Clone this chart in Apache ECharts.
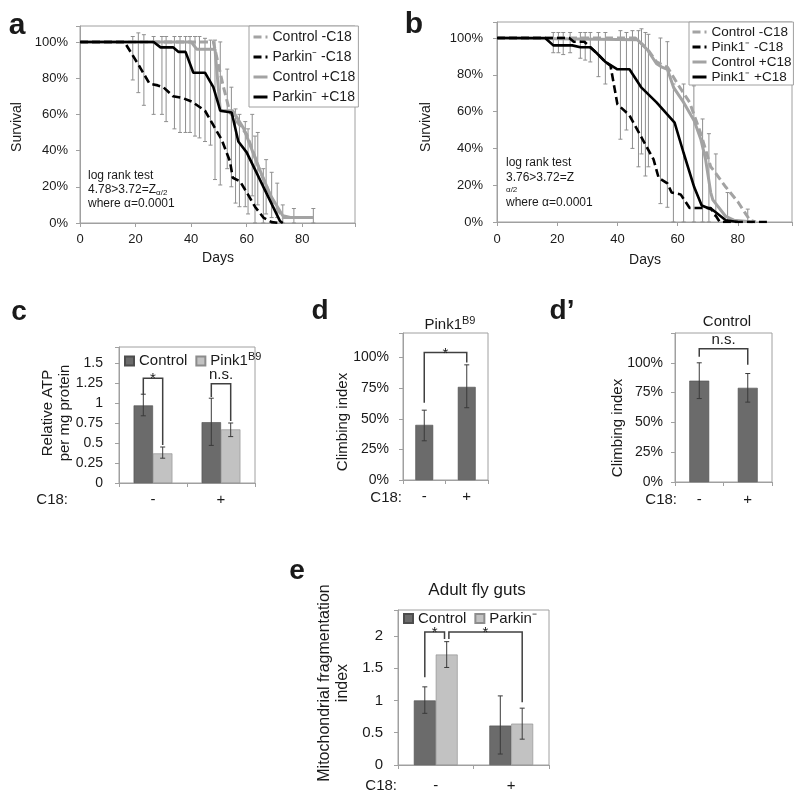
<!DOCTYPE html>
<html><head><meta charset="utf-8">
<script src="https://cdn.jsdelivr.net/npm/echarts@6/dist/echarts.min.js"></script>
<style>html,body{margin:0;padding:0;background:#fff}#main{width:800px;height:799px}</style>
</head><body><div id="main"></div>
<script>
// ---------------- Panel a : Parkin survival (days / % survival) ----------------
const aCtrlMinusDays = [0,48,51.5,54,57,60,65,69.5,73,76,84];
const aCtrlMinusVals = [100,100,76,61,55,49,28,12,3,3,3];
const aParkMinusDays = [0,16,21.6,25,28,30,33.5,37,40.3,45,48,51,54,55,57.6,60,63,66,69,72];
const aParkMinusVals = [100,100,86,77,76,75,70,69,67,62,54,46,34,25,23,17,9,3,0.5,0];
const aCtrlPlusDays  = [0,40,42,48.6,50.5,55,59,64,68.5,73,75.7,84];
const aCtrlPlusVals  = [100,100,96,96,62,62,52,32,15.5,4,3,3];
const aParkPlusDays  = [0,26.5,29,33.5,35.5,38,40.8,45,48,50.5,54.6,57,60,72,73];
const aParkPlusVals  = [100,100,97,97,94.5,94.5,83,83,75,62,61,45,39,1,0];
const aErrDays = [19,21,23,26.5,29.5,31,34,36,38,39.6,41.4,43,45,47,48.6,50.5,53,54.5,56,57.4,59.5,60.5,62,63,64,66,67,69,71,73,77,84];
const aErrLo   = [79,72,65,60,60,56,52,50,50,50,48,47,45,43,24,21,30,20,11,9,9,5,15,0,10,0,5,3,3,0,0,0];
const aErrHi   = [103,105,104,103,103,103,103,103,103,103,103,103,102,101,101,100,85,75,63,60,56,52,60,48,50,30,35,28,22,10,8,8];

// ---------------- Panel b : Pink1 survival ----------------
const bCtrlMinusDays = [0,46,50,53,56.7,60,64,67.7,71,72,76,80,84,86];
const bCtrlMinusVals = [100,100,94,87,84,75,65,48,30,28,19,11,1,0];
const bPinkMinusDays = [0,24,25.5,29,33,36,37.7,40,44,49,52,53.7,56.6,58,61,64,71,74,90];
const bPinkMinusVals = [100,100,98,98,92,87,85,64,58,43,34,24,21,16,15,7.6,7.6,0,0];
const bCtrlPlusDays  = [0,46.7,50,53,55,56.6,58.7,62,65.5,67.7,69.3,71,71.7,76,78.7,85];
const bCtrlPlusVals  = [100,99,93.5,86,84,83,73,65,55,45,34,16,12,3,1,0];
const bPinkPlusDays  = [0,16,18.7,25,27.7,31,33,36,40,44,48,53,59,62,65.5,68,71.7,76,80];
const bPinkPlusVals  = [100,100,96,96,95,95,92,87,83,83,73,65,54,37.5,19,9,6.5,1,0];
const bErrDays = [18.7,20.4,22,24.3,27.7,29.3,31,33.7,36,41,43,45,47,48,49.3,50.3,54.3,56.6,58.6,62,65.4,68.3,70.4,72.7,76.6,83.3];
const bErrLo   = [92,92,91,92,89,88,87,79,75,45,50,40,30,37,25,30,10,8,0,0,0,0,0,3,0,0];
const bErrHi   = [103,103,103,103,103,103,103,103,103,104,103,104,104,105,103,102,100,98,75,75,74,56,48,37,16,7];

// ---------------- Panel c : ATP ----------------
const c18Cats = ['-','+'];
const cControl = [0.97, 0.76];
const cControlLo = [0.84, 0.47];
const cControlHi = [1.11, 1.06];
const cPink1 = [0.37, 0.67];
const cPink1Lo = [0.31, 0.58];
const cPink1Hi = [0.45, 0.75];
const cSig = [[0,-0.5,1.10, 0,0.5,0.475, 1.31],[1,-0.5,1.075, 1,0.5,0.775, 1.24]];
const cSigLabels = ['*','n.s.'];

// ---------------- Panel d : climbing Pink1B9 ----------------
const dVals = [0.45, 0.76];
const dLo = [0.32, 0.59];
const dHi = [0.57, 0.94];
const dSig = [[0,0,0.63, 1,0,0.96, 1.04]];
const dSigLabels = ['*'];

// ---------------- Panel d' : climbing Control ----------------
const d2Vals = [0.85, 0.79];
const d2Lo = [0.70, 0.67];
const d2Hi = [1.00, 0.91];
const d2Sig = [[0,0,1.05, 1,0,0.983, 1.118]];
const d2SigLabels = ['n.s.'];

// ---------------- Panel e : mitochondrial fragmentation ----------------
const eControl = [1.0, 0.61];
const eControlLo = [0.80, 0.17];
const eControlHi = [1.21, 1.07];
const eParkin = [1.71, 0.64];
const eParkinLo = [1.51, 0.40];
const eParkinHi = [1.91, 0.88];
const eSig = [[0,-0.5,1.36, 0,0.4,1.95, 2.06],[0,0.6,1.95, 1,0.5,0.97, 2.06]];
const eSigLabels = ['*','*'];

const FONT = '"Liberation Sans", Arial, Helvetica, sans-serif';
const TXT = '#1a1a1a';
const FRAME = '#a0a0a0';
const GRAY = '#a3a3a3';
const DARK = '#6b6b6b';
const LIGHT = '#c2c2c2';

const chart = echarts.init(document.getElementById('main'), null, {renderer:'canvas'});

function grid(left, top, width, height) {
  return {left, top, width, height, show:true, borderColor:FRAME, borderWidth:1,
          backgroundColor:'transparent', containLabel:false, outerBoundsMode:'none'};
}
const grids = [grid(80,26,275,197), grid(497,22,295,200), grid(119,347,136,136),
               grid(403,333,85,147), grid(675,333,97,149), grid(398,610,151,155)];

function valX(gi, max, margin) {
  return {type:'value', gridIndex:gi, min:0, max, interval:20, splitLine:{show:false},
    axisLine:{show:true, onZero:false, lineStyle:{color:FRAME}},
    axisTick:{show:true, length:4, lineStyle:{color:FRAME}},
    axisLabel:{fontSize:13, fontFamily:FONT, color:TXT, margin, showMaxLabel:true,
      formatter:v => v > 80.5 ? '' : String(v)}};
}
function valY(gi, max, interval, fs, margin, fmt) {
  return {type:'value', gridIndex:gi, min:0, max, interval, splitLine:{show:false},
    axisLine:{show:true, lineStyle:{color:FRAME}},
    axisTick:{show:true, length:4, lineStyle:{color:FRAME}},
    axisLabel:{fontSize:fs, fontFamily:FONT, color:TXT, margin, formatter:fmt}};
}
function catX(gi, fs, margin) {
  return {type:'category', gridIndex:gi, data:c18Cats, boundaryGap:true,
    axisLine:{show:true, lineStyle:{color:FRAME}},
    axisTick:{show:true, alignWithLabel:false, length:4, lineStyle:{color:FRAME}},
    axisLabel:{fontSize:fs, fontFamily:FONT, color:TXT, margin}};
}

const xAxes = [valX(0,99,10), valX(1,98,11), catX(2,15,9), catX(3,15,9), catX(4,15,10), catX(5,15,13)];
const yAxes = [
  valY(0,108.8,20,13,12, v => v > 100.5 ? '' : v + '%'),
  valY(1,108.7,20,13,14, v => v > 100.5 ? '' : v + '%'),
  valY(2,1.7,0.25,14,16, v => v > 1.55 ? '' : String(v)),
  valY(3,1.2,0.25,14,14, v => v > 1.01 ? '' : Math.round(v*100) + '%'),
  valY(4,1.25,0.25,14,12, v => v > 1.01 ? '' : Math.round(v*100) + '%'),
  valY(5,2.4,0.5,15,15, v => v > 2.01 ? '' : String(v))
];

function survLine(gi, name, days, vals, color, width, dashed, z) {
  return {type:'line', name, xAxisIndex:gi, yAxisIndex:gi, symbol:'none', showSymbol:false,
    data: days.map((d,i)=>[d, vals[i]]), z, silent:true, animation:false,
    itemStyle:{color}, lineStyle:{color, width, type: dashed ? [8,4] : 'solid'}};
}
function survErr(gi, days, lo, hi) {
  return {type:'custom', xAxisIndex:gi, yAxisIndex:gi, silent:true, z:1, animation:false,
    encode:{x:0, y:[1,2]},
    data: days.map((d,i)=>[d, lo[i], hi[i]]),
    renderItem:(p, api) => {
      const a = api.coord([api.value(0), api.value(1)]);
      const b = api.coord([api.value(0), api.value(2)]);
      const st = {stroke:'#8f8f8f', lineWidth:1};
      return {type:'group', children:[
        {type:'line', shape:{x1:a[0],y1:a[1],x2:b[0],y2:b[1]}, style:st},
        {type:'line', shape:{x1:a[0]-2,y1:a[1],x2:a[0]+2,y2:a[1]}, style:st},
        {type:'line', shape:{x1:b[0]-2,y1:b[1],x2:b[0]+2,y2:b[1]}, style:st}]};
    }};
}
function bar(gi, name, data, color, border, gap) {
  return {type:'bar', name, xAxisIndex:gi, yAxisIndex:gi, data, barGap:'0%', barCategoryGap:gap,
    silent:true, animation:false, z:2,
    itemStyle:{color, borderColor:border, borderWidth:0.6}};
}
function barErr(gi, lo, hi, off, gapFrac, nBars) {
  return {type:'custom', xAxisIndex:gi, yAxisIndex:gi, silent:true, z:5, animation:false,
    encode:{x:0, y:[1,2]},
    data: lo.map((l,i)=>[i, l, hi[i], off]),
    renderItem:(p, api) => {
      const band = api.size([1,0])[0];
      const bw = band*(1-gapFrac)/nBars;
      const a = api.coord([api.value(0), api.value(1)]);
      const b = api.coord([api.value(0), api.value(2)]);
      const x = a[0] + api.value(3)*bw;
      const st = {stroke:'#3a3a3a', lineWidth:1};
      return {type:'group', children:[
        {type:'line', shape:{x1:x,y1:a[1],x2:x,y2:b[1]}, style:st},
        {type:'line', shape:{x1:x-2.5,y1:a[1],x2:x+2.5,y2:a[1]}, style:st},
        {type:'line', shape:{x1:x-2.5,y1:b[1],x2:x+2.5,y2:b[1]}, style:st}]};
    }};
}
function brackets(gi, rows, labels, gapFrac, nBars, fs) {
  return {type:'custom', xAxisIndex:gi, yAxisIndex:gi, silent:true, z:6, animation:false,
    encode:{x:0, y:6},
    data: rows.map((r,i)=>r.concat([i])),
    renderItem:(p, api) => {
      const band = api.size([1,0])[0];
      const bw = band*(1-gapFrac)/nBars;
      const P = (c,off,v) => { const q = api.coord([c, v]); return [q[0]+off*bw, q[1]]; };
      const p1 = P(api.value(0), api.value(1), api.value(2));
      const p2 = P(api.value(0), api.value(1), api.value(6));
      const p3 = P(api.value(3), api.value(4), api.value(6));
      const p4 = P(api.value(3), api.value(4), api.value(5));
      const lab = labels[api.value(7)];
      const star = lab === '*';
      return {type:'group', children:[
        {type:'polyline', shape:{points:[p1,p2,p3,p4]}, style:{stroke:'#404040', lineWidth:1.5, fill:null}},
        {type:'text', x:(p2[0]+p3[0])/2, y: star ? p2[1]+1 : p2[1]-1,
          style:{text:lab, fontSize:fs, fontFamily:FONT, fill:TXT, align:'center',
                 verticalAlign: star ? 'middle' : 'bottom'}}]};
    }};
}

const series = [
  survErr(0, aErrDays, aErrLo, aErrHi),
  survLine(0,'a:Control -C18', aCtrlMinusDays, aCtrlMinusVals, GRAY, 3, true, 3),
  survLine(0,'a:Parkin⁻ -C18', aParkMinusDays, aParkMinusVals, '#000', 2.6, true, 4),
  survLine(0,'a:Control +C18', aCtrlPlusDays, aCtrlPlusVals, GRAY, 3, false, 3),
  survLine(0,'a:Parkin⁻ +C18', aParkPlusDays, aParkPlusVals, '#000', 2.6, false, 4),
  survErr(1, bErrDays, bErrLo, bErrHi),
  survLine(1,'b:Control -C18', bCtrlMinusDays, bCtrlMinusVals, GRAY, 3, true, 3),
  survLine(1,'b:Pink1⁻ -C18', bPinkMinusDays, bPinkMinusVals, '#000', 2.6, true, 4),
  survLine(1,'b:Control +C18', bCtrlPlusDays, bCtrlPlusVals, GRAY, 3, false, 3),
  survLine(1,'b:Pink1⁻ +C18', bPinkPlusDays, bPinkPlusVals, '#000', 2.6, false, 4),
  bar(2,'c:Control', cControl, DARK, '#4d4d4d', '43%'),
  bar(2,'c:Pink1B9', cPink1, LIGHT, '#8c8c8c', '43%'),
  barErr(2, cControlLo, cControlHi, -0.5, 0.43, 2),
  barErr(2, cPink1Lo, cPink1Hi, 0.5, 0.43, 2),
  brackets(2, cSig, cSigLabels, 0.43, 2, 15),
  bar(3,'d:Pink1', dVals, DARK, '#4d4d4d', '58%'),
  barErr(3, dLo, dHi, 0, 0.58, 1),
  brackets(3, dSig, dSigLabels, 0.58, 1, 15),
  bar(4,'d2:Control', d2Vals, DARK, '#4d4d4d', '59%'),
  barErr(4, d2Lo, d2Hi, 0, 0.59, 1),
  brackets(4, d2Sig, d2SigLabels, 0.59, 1, 15),
  bar(5,'e:Control', eControl, DARK, '#4d4d4d', '42%'),
  bar(5,'e:Parkin⁻', eParkin, LIGHT, '#8c8c8c', '42%'),
  barErr(5, eControlLo, eControlHi, -0.5, 0.42, 2),
  barErr(5, eParkinLo, eParkinHi, 0.5, 0.42, 2),
  brackets(5, eSig, eSigLabels, 0.42, 2, 15)
];

const legBase = {selectedMode:false, backgroundColor:'#fff', borderColor:FRAME, borderWidth:1,
  borderRadius:0, orient:'vertical', itemWidth:14, itemHeight:14,
  itemStyle:{color:'rgba(0,0,0,0)', borderColor:'rgba(0,0,0,0)', borderWidth:0},
  lineStyle:{width:3},
  textStyle:{fontFamily:FONT, fontSize:14, color:TXT, lineHeight:14}, formatter: n => n.slice(2)};
const legends = [
  Object.assign({}, legBase, {left:249, top:26, padding:[4,3,3,3], itemGap:6,
    data:['a:Control -C18','a:Parkin⁻ -C18','a:Control +C18','a:Parkin⁻ +C18']}),
  Object.assign({}, legBase, {left:689, top:22, padding:[3,2,1,2], itemGap:1,
    textStyle:{fontFamily:FONT, fontSize:13.5, color:TXT, lineHeight:14},
    data:['b:Control -C18','b:Pink1⁻ -C18','b:Control +C18','b:Pink1⁻ +C18']}),
  {selectedMode:false, orient:'horizontal', left:124, top:351, icon:'rect', itemWidth:9, itemHeight:9,
    itemGap:8, padding:0, data:['c:Control','c:Pink1B9'],
    formatter: n => n === 'c:Pink1B9' ? 'Pink1{sup|B9}' : n.slice(2),
    textStyle:{fontFamily:FONT, fontSize:15, color:TXT,
      rich:{sup:{fontFamily:FONT, fontSize:11, color:TXT, verticalAlign:'top', padding:[0,0,9,0]}}}},
  {selectedMode:false, orient:'horizontal', left:403, top:611, icon:'rect', itemWidth:9, itemHeight:9,
    itemGap:8, padding:0, data:['e:Control','e:Parkin⁻'], formatter: n => n.slice(2),
    textStyle:{fontFamily:FONT, fontSize:15, color:TXT}}
];

function T(x, y, text, o) {
  o = o || {};
  return {type:'text', x, y, rotation:o.rot || 0, silent:true, z:100,
    style:{text, fill:TXT, fontFamily:FONT, fontSize:o.size || 14, fontWeight:o.bold ? 'bold' : 'normal',
      align:o.align || 'center', verticalAlign:o.va || 'middle', lineHeight:o.lh, rich:o.rich}};
}
const R = Math.PI/2;
const graphics = [
  T(17,26,'a',{size:30,bold:true}), T(414,25,'b',{size:30,bold:true}),
  T(19,312,'c',{size:28,bold:true}), T(320,311,'d',{size:28,bold:true}),
  T(562,311,'d’',{size:28,bold:true}), T(297,571,'e',{size:28,bold:true}),
  T(17,127,'Survival',{rot:R}), T(426,127,'Survival',{rot:R}),
  T(218,258,'Days'), T(645,260,'Days'),
  T(88,176,'log rank test',{size:12,align:'left'}),
  T(88,190,'4.78>3.72=Z{s|α/2}',{size:12,align:'left',
     rich:{s:{fontSize:8,fontFamily:FONT,fill:TXT,verticalAlign:'bottom',padding:[5,0,0,0]}}}),
  T(88,204,'where α=0.0001',{size:12,align:'left'}),
  T(506,163,'log rank test',{size:12,align:'left'}),
  T(506,178,'3.76>3.72=Z',{size:12,align:'left'}),
  T(506,190,'α/2',{size:8,align:'left'}),
  T(506,203,'where α=0.0001',{size:12,align:'left'}),
  T(56,413,'Relative ATP\nper mg protein',{rot:R,size:15,lh:17}),
  T(68,500,'C18:',{size:15,align:'right'}),
  T(450,325,'Pink1{sup|B9}',{size:15,
     rich:{sup:{fontSize:11,fontFamily:FONT,fill:TXT,verticalAlign:'top',padding:[0,0,9,0]}}}),
  T(343,422,'Climbing index',{rot:R,size:15}),
  T(402,498,'C18:',{size:15,align:'right'}),
  T(727,322,'Control',{size:15}),
  T(618,428,'Climbing index',{rot:R,size:15}),
  T(677,500,'C18:',{size:15,align:'right'}),
  T(477,590,'Adult fly guts',{size:17}),
  T(334,683,'Mitochondrial fragmentation\nindex',{rot:R,size:16,lh:18}),
  T(397,786,'C18:',{size:15,align:'right'})
];

chart.setOption({
  animation:false,
  backgroundColor:'#fff',
  textStyle:{fontFamily:FONT},
  grid:grids, xAxis:xAxes, yAxis:yAxes, series, legend:legends, graphic:{elements:graphics}
});
</script></body></html>
